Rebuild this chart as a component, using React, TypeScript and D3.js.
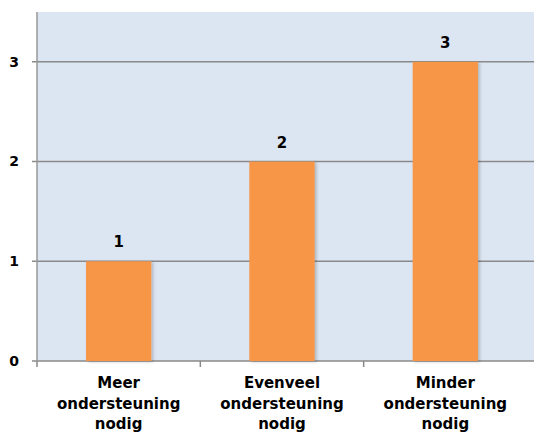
import React from "react";
import * as d3 from "d3";

const categories: string[][] = [
  ["Meer", "ondersteuning", "nodig"],
  ["Evenveel", "ondersteuning", "nodig"],
  ["Minder", "ondersteuning", "nodig"],
];
const values: number[] = [1, 2, 3];
const yTicks: number[] = [0, 1, 2, 3];

const W = 534;
const H = 441;
const left = 37;
const right = 527;
const top = 12;
const bottom = 361;

export default function App() {
  const x = d3
    .scaleBand<number>()
    .domain(values.map((_, i) => i))
    .range([left, right])
    .paddingInner(0.6)
    .paddingOuter(0.3);
  const y = d3.scaleLinear().domain([0, 3.5]).range([bottom, top]);
  const step = x.step();
  const bandW = (right - left) / values.length;
  const bandStart = (i: number) => left + i * bandW;
  const font = "'Century Gothic', 'URW Gothic', 'DejaVu Sans', sans-serif";

  return (
    <svg
      width={W}
      height={H}
      style={{ position: "absolute", left: 0, top: 0, background: "#fff" }}
      fontFamily={font}
    >
      <defs>
        <filter id="sh" x="-20%" y="-5%" width="150%" height="110%">
          <feDropShadow dx="2" dy="1" stdDeviation="1.5" floodColor="#000" floodOpacity="0.2" />
        </filter>
      </defs>
      <rect x={left} y={top} width={W - left} height={bottom - top} fill="#dce6f2" />
      {yTicks.map((t) => (
        <g key={t}>
          <line x1={left - 5} x2={W} y1={y(t)} y2={y(t)} stroke="#8a8a8a" strokeWidth={1.5} />
          <text
            x={left - 18}
            y={y(t)}
            dy="0.35em"
            textAnchor="end"
            fontSize={14}
            fontWeight="bold"
            fill="#000"
          >
            {t}
          </text>
        </g>
      ))}
      <line x1={left} x2={left} y1={top} y2={bottom} stroke="#999" strokeWidth={1.5} />
      {[0, 1, 2].map((i) => (
        <line
          key={i}
          x1={bandStart(i)}
          x2={bandStart(i)}
          y1={bottom}
          y2={bottom + 6}
          stroke="#8a8a8a"
          strokeWidth={1.5}
        />
      ))}
      {values.map((v, i) => {
        const cx = bandStart(i) + bandW / 2;
        const bw = step * 0.4;
        return (
          <g key={i}>
            <rect
              x={cx - bw / 2}
              y={y(v)}
              width={bw}
              height={bottom - y(v)}
              fill="#f79646"
              filter="url(#sh)"
            />
            <text
              x={cx}
              y={y(v) - 14}
              textAnchor="middle"
              fontSize={15}
              fontWeight="bold"
              fill="#000"
            >
              {v}
            </text>
            {categories[i].map((line, j) => (
              <text
                key={j}
                x={cx}
                y={388 + j * 20.5}
                textAnchor="middle"
                fontSize={15}
                fontWeight="bold"
                fill="#000"
              >
                {line}
              </text>
            ))}
          </g>
        );
      })}
    </svg>
  );
}
